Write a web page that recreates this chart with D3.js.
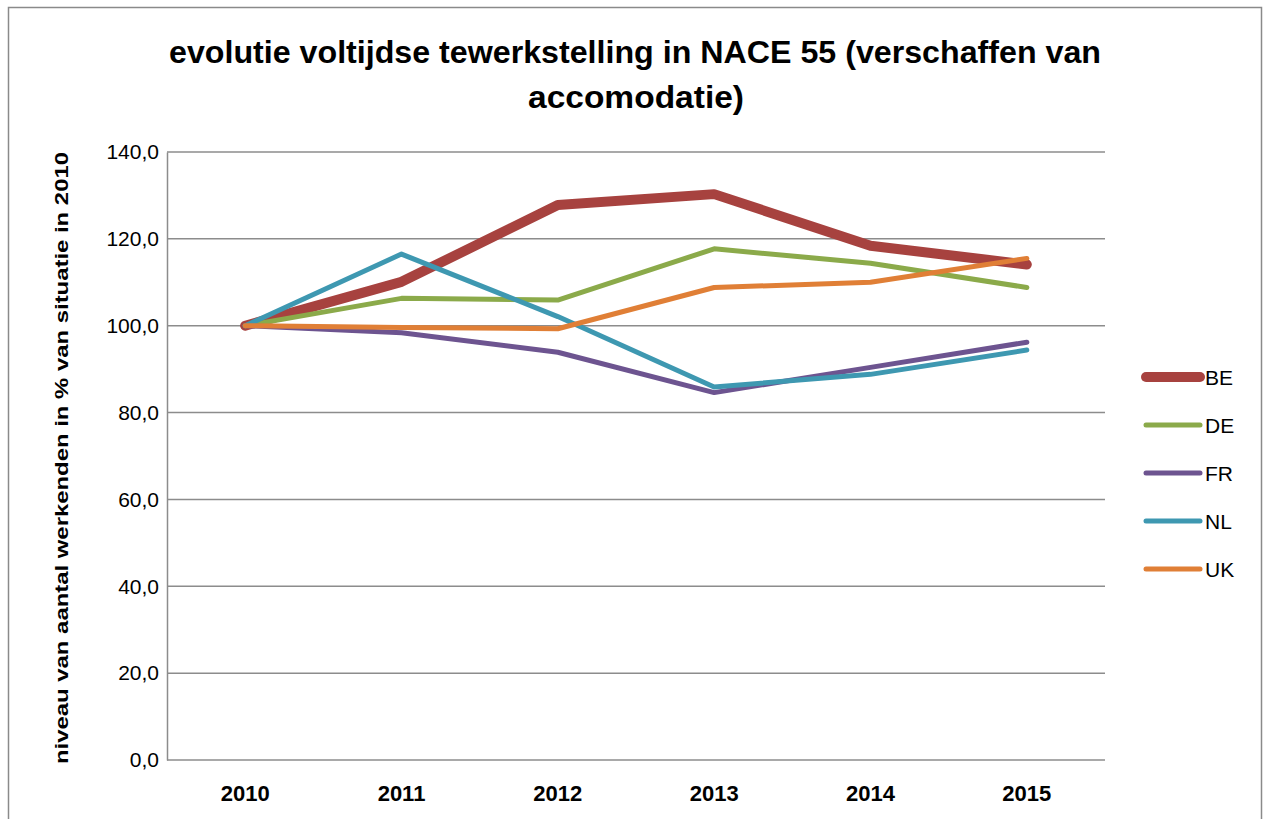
<!DOCTYPE html>
<html><head><meta charset="utf-8">
<script src="https://cdn.jsdelivr.net/npm/d3@7"></script>
<style>body{margin:0;background:#fff}svg{display:block}</style>
</head><body>
<svg id="c" width="1263" height="819"></svg>
<script>
const years = ["2010","2011","2012","2013","2014","2015"];
const BE = [100.0, 110.1, 127.8, 130.3, 118.4, 114.1];
const DE = [100.0, 106.3, 105.9, 117.7, 114.4, 108.8];
const FR = [100.0, 98.4, 93.9, 84.6, 90.4, 96.2];
const NL = [100.0, 116.5, 102.1, 85.9, 88.8, 94.4];
const UK = [100.0, 99.6, 99.3, 108.8, 110.0, 115.5];
const seriesNames = ["BE","DE","FR","NL","UK"];
const yTicks = [0,20,40,60,80,100,120,140];
const title = ["evolutie voltijdse tewerkstelling in NACE 55 (verschaffen van","accomodatie)"];
const yLabel = "niveau van aantal werkenden in % van situatie in 2010";

const colors = {BE:"#A7423F",DE:"#8BAA4A",FR:"#6D5490",NL:"#3E98B1",UK:"#E07F36"};
const widths = {BE:10,DE:5,FR:5,NL:5,UK:5};
const data = {BE,DE,FR,NL,UK};

const svg = d3.select("#c");
const font = "'Liberation Sans Narrow','Liberation Sans',Arial,sans-serif";
const L=167, R=1105, T=152, B=760;

svg.append("rect").attr("x",8.5).attr("y",7.5).attr("width",1253).attr("height",830)
  .attr("fill","#fff").attr("stroke","#8a8a8a").attr("stroke-width",1.5);

const x = d3.scaleBand().domain(years).range([L,R]);
const y = d3.scaleLinear().domain([0,140]).range([B,T]);

// gridlines
svg.append("g").selectAll("line").data(yTicks).join("line")
  .attr("x1",L).attr("x2",R).attr("y1",d=>y(d)).attr("y2",d=>y(d))
  .attr("stroke","#8c8c8c").attr("stroke-width",1.5);

// y axis
const yAxis = svg.append("g").attr("transform",`translate(${L},0)`)
  .call(d3.axisLeft(y).tickValues(yTicks).tickSize(0).tickPadding(8)
    .tickFormat(d=>d3.format(".1f")(d).replace(".",",")));
yAxis.select(".domain").attr("stroke","#8c8c8c").attr("stroke-width",1.5);
yAxis.selectAll("text").attr("font-family",font).attr("font-size",21).attr("fill","#000");

// x axis
const xAxis = svg.append("g").attr("transform",`translate(0,${B})`)
  .call(d3.axisBottom(x).tickSize(0).tickPadding(25));
xAxis.select(".domain").remove();
xAxis.selectAll("text").attr("font-family",font).attr("font-size",22).attr("font-weight","bold").attr("fill","#000");

// lines
const line = d3.line().x((d,i)=>x(years[i])+x.bandwidth()/2).y(d=>y(d));
seriesNames.forEach(s=>{
  svg.append("path").datum(data[s]).attr("d",line).attr("fill","none")
    .attr("stroke",colors[s]).attr("stroke-width",widths[s])
    .attr("stroke-linejoin","round").attr("stroke-linecap","round");
});

// legend
const lg = svg.append("g");
seriesNames.forEach((s,i)=>{
  const yy = 377 + i*48;
  lg.append("line").attr("x1",1146).attr("x2",1200).attr("y1",yy).attr("y2",yy)
    .attr("stroke",colors[s]).attr("stroke-width",widths[s]).attr("stroke-linecap","round");
  lg.append("text").attr("x",1205).attr("y",yy).attr("dy","0.36em")
    .attr("font-family",font).attr("font-size",21).attr("fill","#000").text(s);
});

// title
svg.append("text").attr("x",635).attr("y",63).attr("text-anchor","middle")
  .attr("font-family",font).attr("font-size",32).attr("font-weight","bold")
  .attr("textLength",932).attr("lengthAdjust","spacingAndGlyphs").text(title[0]);
svg.append("text").attr("x",636).attr("y",108).attr("text-anchor","middle")
  .attr("font-family",font).attr("font-size",32).attr("font-weight","bold")
  .attr("textLength",216).attr("lengthAdjust","spacingAndGlyphs").text(title[1]);

// y label
svg.append("text").attr("transform",`translate(68,${(T+B)/2+2}) rotate(-90)`)
  .attr("text-anchor","middle").attr("font-family","'Liberation Sans',Arial,sans-serif")
  .attr("font-size",19).attr("font-weight","bold")
  .attr("textLength",612).attr("lengthAdjust","spacingAndGlyphs").text(yLabel);
</script>
</body></html>
